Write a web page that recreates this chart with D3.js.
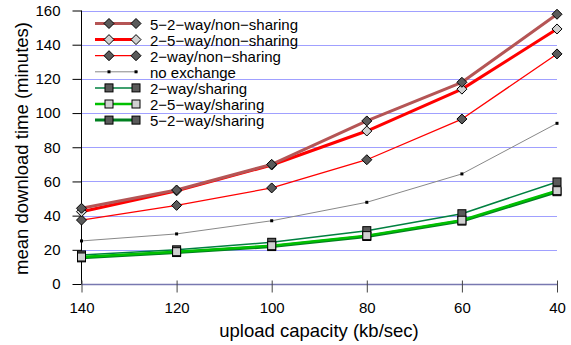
<!DOCTYPE html>
<html><head><meta charset="utf-8">
<script src="https://cdn.jsdelivr.net/npm/d3@7"></script>
<style>body{margin:0;background:#fff}svg{font-family:"Liberation Sans",Arial,sans-serif}</style>
</head><body><svg id="c" width="571" height="345"></svg>
<script>
const capacities = [140, 120, 100, 80, 60, 40];
const yTicks = [0, 20, 40, 60, 80, 100, 120, 140, 160];
const seriesNames = ["5\u22122\u2212way/non\u2212sharing","2\u22125\u2212way/non\u2212sharing","2\u2212way/non\u2212sharing","no exchange","2\u2212way/sharing","2\u22125\u2212way/sharing","5\u22122\u2212way/sharing"];
const nonSharing52 = [44.3, 55, 70, 95.4, 118, 157.8];
const nonSharing25 = [42.3, 54.5, 69.6, 89.5, 114, 149.2];
const nonSharing2 = [37.4, 46, 56.2, 72.7, 96.5, 134.6];
const noExchange = [25.2, 29.3, 37, 47.8, 64.4, 94];
const sharing2 = [17, 20, 24.4, 31.2, 41.1, 59.7];
const sharing25 = [15.8, 18.9, 22.4, 28.3, 37.3, 54.6];
const sharing52 = [15.3, 18.4, 21.9, 27.8, 36.8, 54.0];

const styles = [
  {color:"#b55555", w:3, marker:"diamond", fill:"#5a5a5a"},
  {color:"#ff0000", w:3, marker:"diamond", fill:"#d0d0d0"},
  {color:"#ff0000", w:1.3, marker:"diamond", fill:"#5a5a5a"},
  {color:"#888888", w:1, marker:"dot", fill:"#000"},
  {color:"#008040", w:1.5, marker:"square", fill:"#5a5a5a"},
  {color:"#00c000", w:2.5, marker:"square", fill:"#d0d0d0"},
  {color:"#008020", w:3, marker:"square", fill:"#5a5a5a"}
];
const data = [nonSharing52, nonSharing25, nonSharing2, noExchange, sharing2, sharing25, sharing52];

const svg = d3.select("#c");
const x = d3.scalePoint().domain(capacities).range([81.5, 557]);
const y = d3.scaleLinear().domain([0,160]).range([284, 10.5]);
const FONT = "Liberation Sans, Arial, sans-serif";

// gridlines
svg.append("g").selectAll("line").data(yTicks.filter(d=>d>0)).join("line")
  .attr("x1",81.5).attr("x2",557).attr("y1",d=>Math.round(y(d))+0.5).attr("y2",d=>Math.round(y(d))+0.5)
  .attr("stroke","#a0a0ff").attr("stroke-width",1);

// y axis
const ya = svg.append("g").attr("transform","translate(81.5,0)")
  .call(d3.axisLeft(y).tickValues(yTicks).tickSize(9).tickPadding(12));
ya.select(".domain").attr("stroke","#000").attr("d","M0,284.5V10.5");
ya.selectAll(".tick line").attr("stroke","#000");
ya.selectAll("text").attr("font-size",15).attr("fill","#000").attr("font-family",FONT);

// x axis
const xa = svg.append("g").attr("transform","translate(0,284.5)")
  .call(d3.axisBottom(x).tickSize(8).tickPadding(10));
xa.select(".domain").attr("stroke","#7878b0").attr("stroke-width",1.5).attr("d","M81.5,0H557");
xa.selectAll(".tick line").attr("stroke","#444").attr("y1",-4);
xa.selectAll("text").attr("font-size",15).attr("fill","#000").attr("font-family",FONT);

// titles
svg.append("text").attr("x",319).attr("y",337).attr("text-anchor","middle")
  .attr("font-size",18.5).text("upload capacity (kb/sec)");
svg.append("text").attr("transform","translate(28,148.5) rotate(-90)").attr("text-anchor","middle")
  .attr("font-size",18.5).text("mean download time (minutes)");

function drawMarker(g, s, cx, cy){
  if(s.marker==="diamond"){
    g.append("path").attr("d",`M${cx},${cy-5}L${cx+5},${cy}L${cx},${cy+5}L${cx-5},${cy}Z`)
      .attr("fill",s.fill).attr("stroke","#000").attr("stroke-width",1);
  } else if(s.marker==="square"){
    g.append("rect").attr("x",cx-4).attr("y",cy-4).attr("width",8).attr("height",8)
      .attr("fill",s.fill).attr("stroke","#000").attr("stroke-width",1);
  } else {
    g.append("rect").attr("x",cx-1.5).attr("y",cy-1.5).attr("width",3).attr("height",3)
      .attr("fill","#000");
  }
}

const line = d3.line().x((d,i)=>x(capacities[i])).y(d=>y(d));
const order = [3,4,6,5,2,1,0];
order.forEach(k=>{
  const s = styles[k];
  const g = svg.append("g");
  g.append("path").datum(data[k]).attr("d",line).attr("fill","none")
    .attr("stroke",s.color).attr("stroke-width",s.w).attr("stroke-linejoin","round");
  data[k].forEach((v,i)=>drawMarker(g, s, x(capacities[i]), y(v)));
});

// legend
const lg = svg.append("g");
seriesNames.forEach((n,k)=>{
  const s = styles[k];
  const ly = 23.5 + k*16.1;
  lg.append("line").attr("x1",95).attr("x2",138).attr("y1",ly).attr("y2",ly)
    .attr("stroke",s.color).attr("stroke-width",s.w);
  drawMarker(lg, s, 109, ly);
  drawMarker(lg, s, 136, ly);
  lg.append("text").attr("x",150).attr("y",ly+6).attr("font-size",15).text(n);
});
</script></body></html>
